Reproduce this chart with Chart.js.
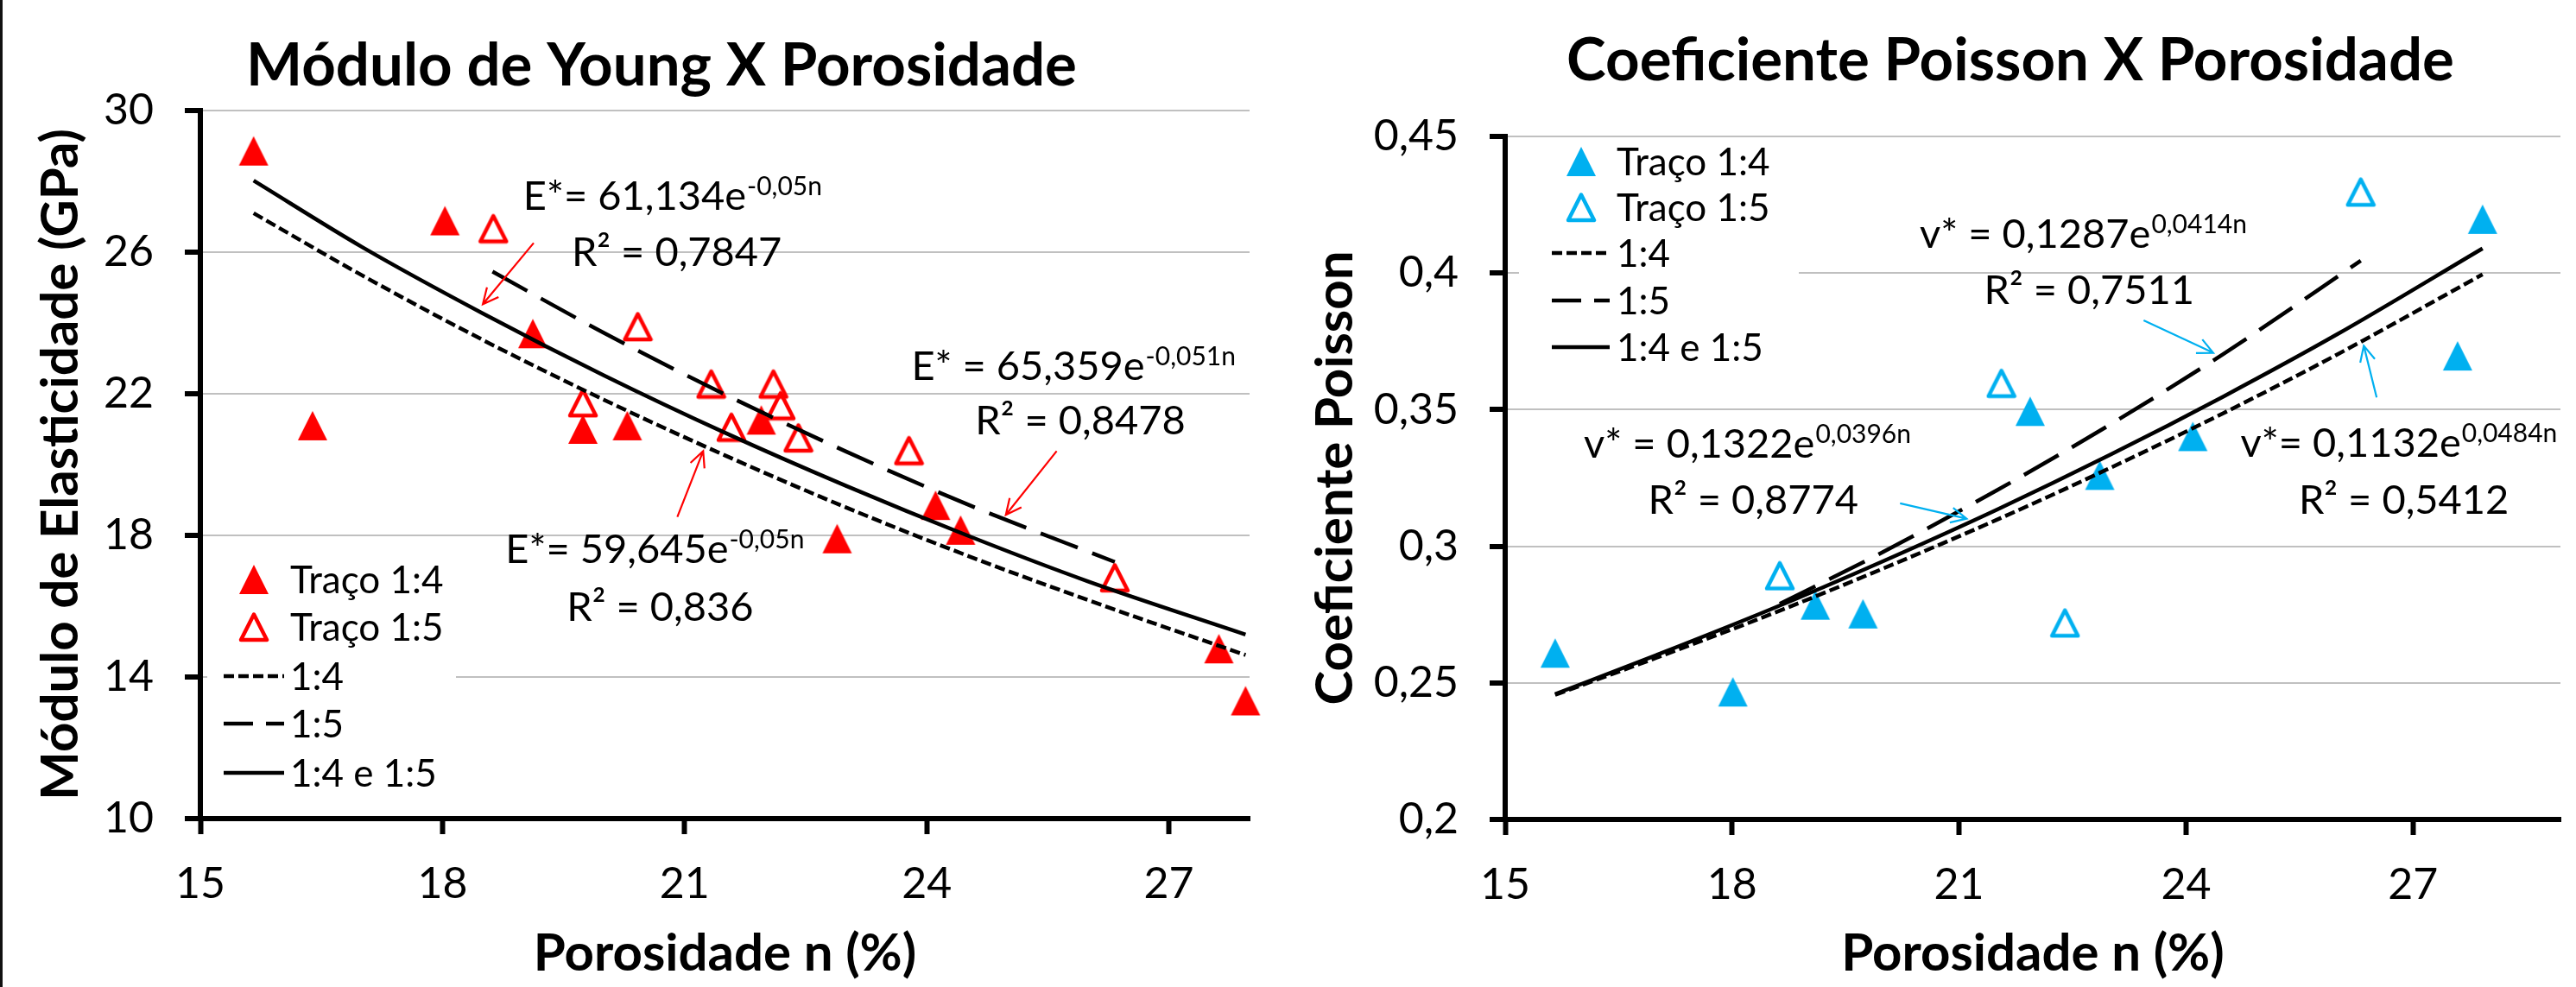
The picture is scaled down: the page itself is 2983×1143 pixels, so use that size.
<!DOCTYPE html>
<html lang="pt">
<head>
<meta charset="UTF-8" />
<title>Módulo de Young / Coeficiente Poisson X Porosidade</title>
<script src="https://cdn.jsdelivr.net/npm/chart.js"></script>
<style>
  body { margin: 0; background: #fff; width: 2983px; height: 1143px; overflow: hidden; position: relative; }
  canvas { position: absolute; top: 0; }
  #edge { position: absolute; left: 0; top: 0; width: 3px; height: 1143px; background: #111; }
</style>
</head>
<body>
<canvas id="youngChart" width="1480" height="1143" style="left:0"></canvas>
<canvas id="poissonChart" width="1503" height="1143" style="left:1480px"></canvas>
<div id="edge"></div>

<script>
// ---- axis ticks
const xTicks = [15, 18, 21, 24, 27];
const youngTicksY = [10, 14, 18, 22, 26, 30];
const poissonTicksY = [0.2, 0.25, 0.3, 0.35, 0.4, 0.45];

// ---- Módulo de Young (GPa) x porosidade n (%)
const youngT14n = [15.66, 16.39, 18.03, 19.12, 19.74, 20.29, 21.95, 22.89, 24.11, 24.42, 27.62, 27.95];
const youngT14E = [28.86, 21.10, 26.89, 23.70, 21.00, 21.10, 21.26, 17.91, 18.85, 18.15, 14.80, 13.33];
const youngT15n = [18.63, 19.74, 20.42, 21.33, 21.58, 22.10, 22.19, 22.41, 23.78, 26.33];
const youngT15E = [26.67, 21.75, 23.90, 22.28, 21.06, 22.28, 21.67, 20.76, 20.40, 16.81];

// trend curves
const youngFit14n = [15.66, 17, 18.5, 20, 21.5, 23, 24.5, 26, 27.95];
const youngFit14E = [27.10, 25.35, 23.52, 21.83, 20.26, 18.79, 17.43, 16.17, 14.62];
const youngFit15n = [18.62, 20, 21.5, 23, 24.5, 26.33];
const youngFit15E = [25.45, 23.72, 21.98, 20.37, 18.88, 17.25];
const youngFitAlln = [15.66, 17, 18.5, 20, 21.5, 23, 24.5, 26, 27.95];
const youngFitAllE = [28.02, 26.15, 24.27, 22.52, 20.90, 19.40, 18.00, 16.70, 15.20];

// ---- Coeficiente Poisson x porosidade n (%)
const poissonT14n = [15.66, 18.01, 19.10, 19.73, 21.94, 22.86, 24.09, 27.59, 27.92];
const poissonT14v = [0.2609, 0.2467, 0.2785, 0.2753, 0.3494, 0.3260, 0.3402, 0.3697, 0.4197];
const poissonT15n = [18.63, 21.56, 22.40, 26.31];
const poissonT15v = [0.2893, 0.3597, 0.2720, 0.4297];

const poissonFit14n = [15.66, 17, 18.5, 20, 21.5, 23, 24.5, 26, 27.92];
const poissonFit14v = [0.2456, 0.2592, 0.2750, 0.2919, 0.3097, 0.3287, 0.3488, 0.3702, 0.3995];
const poissonFit15n = [18.63, 20, 21.5, 23, 24.5, 26.31];
const poissonFit15v = [0.2789, 0.2980, 0.3205, 0.3446, 0.3705, 0.4045];
const poissonFitAlln = [15.66, 17, 18.5, 20, 21.5, 23, 24.5, 26, 27.92];
const poissonFitAllv = [0.2459, 0.2602, 0.2768, 0.2946, 0.3134, 0.3335, 0.3549, 0.3776, 0.4090];

const legendLabels = ['Traço 1:4', 'Traço 1:5', '1:4', '1:5', '1:4 e 1:5'];

const RED = '#ff0000';
const BLUE = '#00b0f0';
const GRID = '#c0c0c0';
const DOT = [12, 5];
const DASH = [46, 18];

const pts = (xs, ys) => xs.map((x, i) => ({ x: x, y: ys[i] }));

// Excel-like triangle markers
function triangle(color, filled) {
  const c = document.createElement('canvas');
  c.width = 36; c.height = 36;
  const g = c.getContext('2d');
  g.beginPath();
  if (filled) {
    g.moveTo(18, 1); g.lineTo(35, 35); g.lineTo(1, 35); g.closePath();
    g.fillStyle = color; g.fill();
  } else {
    g.moveTo(18, 3.5); g.lineTo(33, 33); g.lineTo(3, 33); g.closePath();
    g.lineWidth = 4.5; g.lineJoin = 'round'; g.strokeStyle = color; g.stroke();
  }
  return c;
}

function arrow(ctx, x1, y1, x2, y2, color) {
  const a = Math.atan2(y2 - y1, x2 - x1), h = 20, s = 0.45;
  ctx.strokeStyle = color; ctx.lineWidth = 2.2; ctx.setLineDash([]);
  ctx.beginPath();
  ctx.moveTo(x1, y1); ctx.lineTo(x2, y2);
  ctx.moveTo(x2 - h * Math.cos(a - s), y2 - h * Math.sin(a - s)); ctx.lineTo(x2, y2);
  ctx.lineTo(x2 - h * Math.cos(a + s), y2 - h * Math.sin(a + s));
  ctx.stroke();
}

// titles, equations, arrows and legend
function overlay(cfg) {
  return {
    id: 'overlay',
    afterDraw(chart) {
      const ctx = chart.ctx, xs = chart.scales.x, ys = chart.scales.y;
      ctx.save();
      ctx.fillStyle = '#000';
      ctx.textBaseline = 'alphabetic';
      ctx.textAlign = 'center';
      ctx.font = 'bold 69px Lato';
      ctx.fillText(cfg.title, cfg.titleX, cfg.titleY);

      ctx.textAlign = 'left';
      cfg.equations.forEach(q => {
        const x = xs.getPixelForValue(q.n), y = ys.getPixelForValue(q.v);
        ctx.font = '47px Lato';
        ctx.fillText(q.text, x, y);
        if (q.sup) {
          const w = ctx.measureText(q.text).width;
          ctx.font = '30px Lato';
          ctx.fillText(q.sup, x + w + 1, y - 17);
        }
      });
      cfg.arrows.forEach(a => arrow(ctx, xs.getPixelForValue(a[0]), ys.getPixelForValue(a[1]),
        xs.getPixelForValue(a[2]), ys.getPixelForValue(a[3]), cfg.color));

      const L = cfg.legend;
      ctx.fillStyle = '#fff';
      ctx.fillRect(L.box[0], L.box[1], L.box[2], L.box[3]);
      ctx.fillStyle = '#000';
      ctx.font = '44px Lato';
      legendLabels.forEach((label, i) => {
        const y = L.rows[i];
        if (i < 2) {
          const img = i === 0 ? cfg.filled : cfg.open;
          ctx.drawImage(img, L.markerX - 18, y - 18);
        } else {
          ctx.strokeStyle = '#000'; ctx.lineWidth = 4.5; ctx.lineCap = 'butt';
          ctx.setLineDash(i === 2 ? DOT : i === 3 ? [34, 15] : []);
          ctx.beginPath(); ctx.moveTo(L.lineX[0], y); ctx.lineTo(L.lineX[1], y); ctx.stroke();
          ctx.setLineDash([]);
        }
        ctx.fillText(label, L.textX, y + 16);
      });
      ctx.restore();
    }
  };
}

function build(id, c) {
  const filled = triangle(c.color, true), open = triangle(c.color, false);
  const minY = c.yTicks[0];
  new Chart(document.getElementById(id), {
    type: 'scatter',
    data: {
      datasets: [
        { label: '1:4 e 1:5', data: pts(c.fitAll[0], c.fitAll[1]), showLine: true, borderColor: '#000', borderWidth: 4.5,
          pointRadius: 0, cubicInterpolationMode: 'monotone', order: 1 },
        { label: '1:5', data: pts(c.fit15[0], c.fit15[1]), showLine: true, borderColor: '#000', borderWidth: 4.5,
          borderDash: DASH, pointRadius: 0, cubicInterpolationMode: 'monotone', order: 1 },
        { label: '1:4', data: pts(c.fit14[0], c.fit14[1]), showLine: true, borderColor: '#000', borderWidth: 4.5,
          borderDash: DOT, pointRadius: 0, cubicInterpolationMode: 'monotone', order: 1 },
        { label: 'Traço 1:5', data: pts(c.t15[0], c.t15[1]), pointStyle: open, pointRadius: 17, clip: false, order: 2 },
        { label: 'Traço 1:4', data: pts(c.t14[0], c.t14[1]), pointStyle: filled, pointRadius: 17, clip: false, order: 3 }
      ]
    },
    options: {
      responsive: false,
      animation: false,
      layout: { padding: { left: 0, right: c.padRight, top: c.padTop, bottom: 0 } },
      plugins: { legend: { display: false }, tooltip: { enabled: false } },
      scales: {
        x: {
          type: 'linear', min: 15, max: c.xMax,
          afterBuildTicks: s => { s.ticks = xTicks.map(v => ({ value: v })); },
          afterFit: s => { s.height = c.xHeight; },
          ticks: { autoSkip: false, maxRotation: 0, color: '#000', padding: 28, font: { size: 50 } },
          grid: { drawOnChartArea: false, tickLength: 18, tickColor: '#000', tickWidth: 6 },
          border: { color: '#000', width: 6 },
          title: { display: true, text: 'Porosidade n (%)', color: '#000', font: { size: 60, weight: 'bold' },
                   padding: { top: 0, bottom: 2 } }
        },
        y: {
          type: 'linear', min: minY, max: c.yTicks[c.yTicks.length - 1],
          afterBuildTicks: s => { s.ticks = c.yTicks.map(v => ({ value: v })); },
          afterFit: s => { s.width = c.yWidth; },
          ticks: { autoSkip: false, color: '#000', padding: 36, font: { size: 50 },
                   callback: v => String(v).replace('.', ',') },
          grid: { color: g => (g.tick && g.tick.value === minY ? 'rgba(0,0,0,0)' : GRID), lineWidth: 2,
                  tickLength: 18, tickColor: '#000', tickWidth: 6 },
          border: { color: '#000', width: 6 },
          title: { display: true, text: c.yTitle, color: '#000', font: { size: 60, weight: 'bold' },
                   padding: { top: c.yTitlePad, bottom: 0 } }
        }
      }
    },
    plugins: [overlay({
      title: c.title, titleX: c.titleX, titleY: c.titleY, color: c.color,
      equations: c.equations, arrows: c.arrows, legend: c.legend, filled: filled, open: open
    })]
  });
}

function draw() {
  Chart.defaults.font.family = 'Lato';

  build('youngChart', {
    title: 'Módulo de Young X Porosidade', titleX: 766, titleY: 99,
    yTitle: 'Módulo de Elasticidade (GPa)', yTitlePad: 35,
    color: RED, xMax: 28, yTicks: youngTicksY,
    padTop: 128, padRight: 33, yWidth: 232, xHeight: 195,
    t14: [youngT14n, youngT14E], t15: [youngT15n, youngT15E],
    fit14: [youngFit14n, youngFit14E], fit15: [youngFit15n, youngFit15E], fitAll: [youngFitAlln, youngFitAllE],
    equations: [
      { n: 19.0, v: 27.2, text: 'E*= 61,134e', sup: '-0,05n' },
      { n: 19.6, v: 25.62, text: 'R² = 0,7847' },
      { n: 23.81, v: 22.4, text: 'E* = 65,359e', sup: '-0,051n' },
      { n: 24.6, v: 20.86, text: 'R² = 0,8478' },
      { n: 18.78, v: 17.23, text: 'E*= 59,645e', sup: '-0,05n' },
      { n: 19.54, v: 15.59, text: 'R² = 0,836' }
    ],
    arrows: [[19.13, 26.26, 18.5, 24.53], [25.61, 20.38, 24.98, 18.58], [20.91, 18.52, 21.23, 20.38]],
    legend: { box: [240, 640, 288, 290], rows: [671, 726, 783, 838, 895], markerX: 294, textX: 336, lineX: [259, 329] }
  });

  build('poissonChart', {
    title: 'Coeficiente Poisson X Porosidade', titleX: 848, titleY: 93,
    yTitle: 'Coeficiente Poisson', yTitlePad: 31,
    color: BLUE, xMax: 28.95, yTicks: poissonTicksY,
    padTop: 158, padRight: 0, yWidth: 263, xHeight: 194,
    t14: [poissonT14n, poissonT14v], t15: [poissonT15n, poissonT15v],
    fit14: [poissonFit14n, poissonFit14v], fit15: [poissonFit15n, poissonFit15v], fitAll: [poissonFitAlln, poissonFitAllv],
    equations: [
      { n: 20.48, v: 0.4091, text: 'v* = 0,1287e', sup: '0,0414n' },
      { n: 21.33, v: 0.3886, text: 'R² = 0,7511' },
      { n: 16.04, v: 0.3323, text: 'v* = 0,1322e', sup: '0,0396n' },
      { n: 16.89, v: 0.3118, text: 'R² = 0,8774' },
      { n: 24.72, v: 0.3327, text: 'v*= 0,1132e', sup: '0,0484n' },
      { n: 25.49, v: 0.3118, text: 'R² = 0,5412' }
    ],
    arrows: [[23.44, 0.3827, 24.36, 0.3708], [20.22, 0.3157, 21.10, 0.3101], [26.52, 0.3545, 26.35, 0.3734]],
    legend: { box: [279, 165, 324, 265], rows: [187, 240, 293, 348, 402], markerX: 351, textX: 392, lineX: [317, 384] }
  });
}

Promise.all([document.fonts.load('48px Lato'), document.fonts.load('bold 66px Lato')])
  .then(draw, draw);
</script>
</body>
</html>
